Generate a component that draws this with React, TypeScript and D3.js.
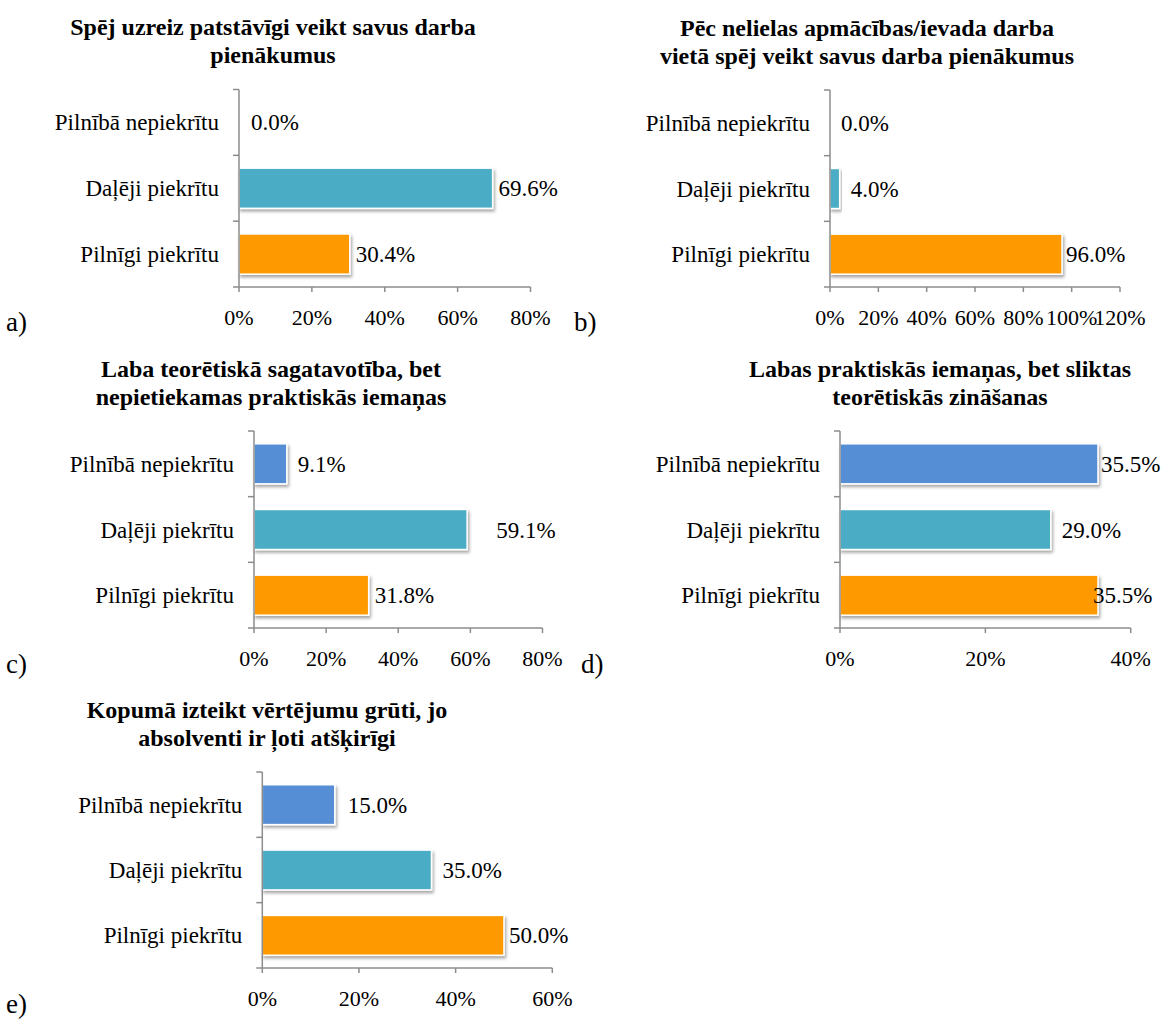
import React from "react";
import * as d3 from "d3";

const categories = ["Pilnībā nepiekrītu", "Daļēji piekrītu", "Pilnīgi piekrītu"];
const categoryColors = ["#558ED5", "#4BACC6", "#FF9900"];

const titleA = ["Spēj uzreiz patstāvīgi veikt savus darba", "pienākumus"];
const titleB = ["Pēc nelielas apmācības/ievada darba", "vietā spēj veikt savus darba pienākumus"];
const titleC = ["Laba teorētiskā sagatavotība, bet", "nepietiekamas praktiskās iemaņas"];
const titleD = ["Labas praktiskās iemaņas, bet sliktas", "teorētiskās zināšanas"];
const titleE = ["Kopumā izteikt vērtējumu grūti, jo", "absolventi ir ļoti atšķirīgi"];

const valuesA = [0, 69.6, 30.4];
const valuesB = [0, 4.0, 96.0];
const valuesC = [9.1, 59.1, 31.8];
const valuesD = [35.5, 29.0, 35.5];
const valuesE = [15.0, 35.0, 50.0];

const axisMaxA = 80;
const axisMaxB = 120;
const axisMaxC = 80;
const axisMaxD = 40;
const axisMaxE = 60;

const tickStep = 20;
const panelTags = ["a)", "b)", "c)", "d)", "e)"];

// layout (positions only): plot box, title centre, tag position, label gaps after bar end
const layouts = [
  { x: 239, y: 89.5, w: 291.5, h: 197.5, titleX: 273, tagX: 6, tagY: 331, gaps: [12, 6, 6] },
  { x: 830, y: 90, w: 290, h: 197, titleX: 867, tagX: 574, tagY: 331, gaps: [11, 11, 4] },
  { x: 254, y: 431, w: 288.5, h: 197, titleX: 271, tagX: 6, tagY: 673, gaps: [11, 29, 6] },
  { x: 840, y: 431, w: 290.7, h: 197, titleX: 940, tagX: 581, tagY: 673, gaps: [3, 11, -5] },
  { x: 262.3, y: 772, w: 290, h: 196, titleX: 267, tagX: 6, tagY: 1013, gaps: [13, 11, 5] },
];

const panels = [
  { title: titleA, values: valuesA, max: axisMaxA },
  { title: titleB, values: valuesB, max: axisMaxB },
  { title: titleC, values: valuesC, max: axisMaxC },
  { title: titleD, values: valuesD, max: axisMaxD },
  { title: titleE, values: valuesE, max: axisMaxE },
];

const FONT = '"Liberation Serif"';
const AXIS = "#8C8C8C";
const fmt = d3.format(".1f");

function Panel({ p, L, tag }: any) {
  const x = d3.scaleLinear().domain([0, p.max]).range([0, L.w]);
  const pad = 0.39;
  const y = d3.scaleBand().domain(categories).range([0, L.h]).paddingInner(pad).paddingOuter(pad / 2);
  const step = y.step();
  const ticks = d3.range(0, p.max + 0.001, tickStep);
  const boundaries = categories.map((c) => (y(c) as number) - (step * pad) / 2).concat([L.h]);
  return (
    <g>
      {p.title.map((t: string, i: number) => (
        <text key={i} x={L.titleX} y={L.y - 54.5 + i * 28} textAnchor="middle" style={{ fontFamily: FONT, fontWeight: "bold", fontSize: 24 }} fill="#000">
          {t}
        </text>
      ))}
      <text x={L.tagX} y={L.tagY} style={{ fontFamily: FONT, fontSize: 27 }} fill="#000">{tag}</text>
      <g transform={`translate(${L.x},${L.y})`}>
        {categories.map((c, i) => {
          const v = p.values[i];
          const bw = x(v);
          const by = y(c) as number;
          return (
            <g key={c}>
              {v > 0 && (
                <rect x={0} y={by} width={bw} height={y.bandwidth()} fill={categoryColors[i]} stroke="#fff" strokeWidth={1.5} filter="url(#shadow)" />
              )}
              <text x={bw + L.gaps[i]} y={by + y.bandwidth() / 2} dy="0.35em" style={{ fontFamily: FONT, fontSize: 23 }} fill="#000">
                {fmt(v)}%
              </text>
              <text x={-20} y={by + y.bandwidth() / 2} dy="0.35em" textAnchor="end" style={{ fontFamily: FONT, fontSize: 23 }} fill="#000">
                {c}
              </text>
            </g>
          );
        })}
        <line x1={0} x2={0} y1={0} y2={L.h} stroke={AXIS} strokeWidth={1.5} />
        <line x1={0} x2={L.w} y1={L.h} y2={L.h} stroke={AXIS} strokeWidth={1.5} />
        {boundaries.map((b, i) => (
          <line key={i} x1={-6} x2={0} y1={b} y2={b} stroke={AXIS} strokeWidth={1.5} />
        ))}
        {ticks.map((t) => (
          <g key={t}>
            <line x1={x(t)} x2={x(t)} y1={L.h} y2={L.h + 5} stroke={AXIS} strokeWidth={1.5} />
            <text x={x(t)} y={L.h + 30} dy="0.35em" textAnchor="middle" style={{ fontFamily: FONT, fontSize: 22 }} fill="#000">
              {t}%
            </text>
          </g>
        ))}
      </g>
    </g>
  );
}

export default function App() {
  return (
    <svg width={1162} height={1020} style={{ position: "absolute", left: 0, top: 0, background: "#fff" }}>
      <defs>
        <filter id="shadow" x="-10%" y="-20%" width="130%" height="160%">
          <feDropShadow dx={1.5} dy={2.5} stdDeviation={1.5} floodColor="#000" floodOpacity={0.35} />
        </filter>
      </defs>
      <rect width={1162} height={1020} fill="#fff" />
      {panels.map((p, i) => (
        <Panel key={i} p={p} L={layouts[i]} tag={panelTags[i]} />
      ))}
    </svg>
  );
}
